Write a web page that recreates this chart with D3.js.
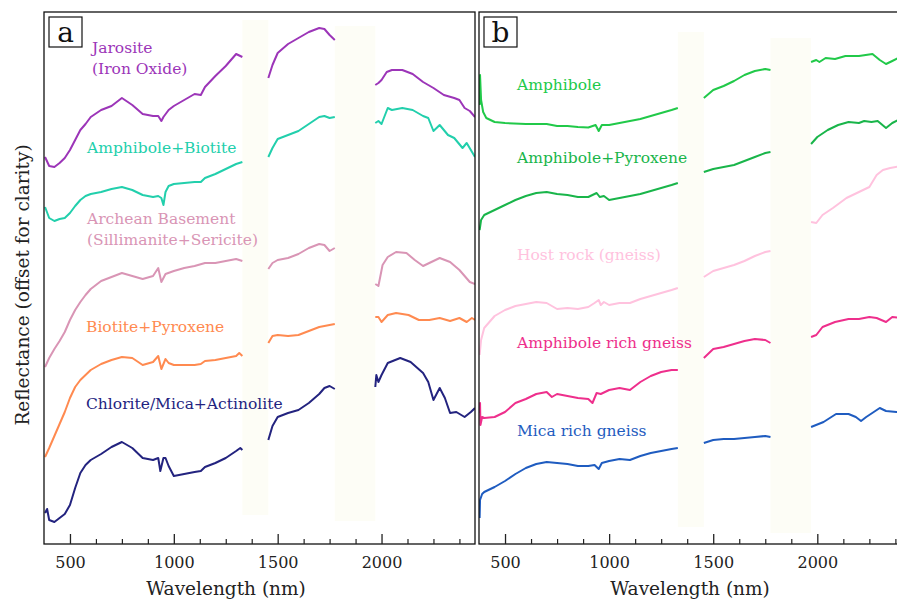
<!DOCTYPE html>
<html>
<head>
<meta charset="utf-8">
<script src="https://cdn.jsdelivr.net/npm/d3@7"></script>
<style>
  body { margin: 0; background: #fff; }
  text { font-family: "DejaVu Serif", serif; }
</style>
</head>
<body>
<div class="chart"></div>
<script>
// ---- data: [wavelength nm, offset reflectance] ----
const majorTicks = [500, 1000, 1500, 2000];
const minorTicks = [625, 750, 875, 1125, 1250, 1375, 1625, 1750, 1875, 2125, 2250, 2375];
const bands = [[1330, 1455], [1775, 1970]];

// panel a
const jarosite = [[380,38.7],[400,37.8],[425,37.7],[450,38.1],[475,38.6],[500,39.4],[525,40.4],[550,41.4],[575,42.0],[600,42.7],[650,43.4],[700,43.8],[750,44.6],[800,43.9],[850,43.0],[900,42.8],[925,42.8],[940,42.3],[950,42.7],[975,43.4],[1000,43.8],[1050,44.4],[1100,45.0],[1130,44.9],[1150,45.7],[1200,46.8],[1250,47.8],[1300,49.0],[1330,48.7],
  [1455,46.6],[1475,47.9],[1500,49.1],[1550,50.0],[1600,50.6],[1650,51.2],[1700,51.6],[1725,51.5],[1750,50.9],[1775,50.4],
  [1970,45.9],[1985,46.1],[2000,46.4],[2025,47.2],[2050,47.4],[2100,47.4],[2150,47.0],[2200,46.2],[2250,45.6],[2300,44.9],[2350,44.6],[2375,44.4],[2400,43.6],[2425,43.3],[2450,42.7]];
const amphBiotite = [[380,33.7],[400,32.6],[425,32.3],[450,32.5],[475,32.6],[500,33.1],[525,33.8],[550,34.4],[575,34.8],[600,35.0],[650,35.2],[700,35.5],[750,35.7],[800,35.4],[850,34.9],[900,34.7],[925,34.8],[940,34.6],[950,33.9],[960,35.2],[975,35.8],[1000,36.0],[1050,36.1],[1100,36.2],[1130,36.2],[1150,36.6],[1200,37.0],[1250,37.5],[1300,38.0],[1330,38.2],
  [1455,38.7],[1475,39.6],[1500,40.5],[1550,40.9],[1600,41.3],[1650,42.0],[1700,42.7],[1725,42.8],[1750,42.6],[1775,42.7],
  [1970,42.1],[1985,42.3],[2000,42.0],[2030,43.6],[2050,43.4],[2100,43.6],[2150,43.4],[2200,42.8],[2225,42.6],[2250,41.3],[2280,41.9],[2320,40.9],[2350,40.6],[2390,39.6],[2410,40.1],[2450,38.7]];
const archean = [[380,17.7],[400,18.6],[425,19.5],[450,20.3],[475,21.2],[500,22.4],[525,23.4],[550,24.2],[575,24.9],[600,25.5],[650,26.3],[700,26.7],[750,27.1],[800,26.8],[850,26.5],[900,26.8],[925,27.6],[940,26.2],[960,27.0],[1000,27.3],[1050,27.6],[1100,27.8],[1150,28.1],[1200,28.1],[1250,28.3],[1300,28.5],[1330,28.3],
  [1455,27.5],[1475,28.1],[1500,28.4],[1550,28.6],[1600,29.0],[1650,29.6],[1700,30.0],[1725,29.9],[1750,29.3],[1775,29.6],
  [1970,26.0],[1985,25.8],[2005,27.9],[2030,28.7],[2070,29.2],[2120,29.1],[2160,28.4],[2200,27.8],[2230,28.1],[2280,28.6],[2330,28.2],[2375,27.4],[2425,26.2],[2450,26.0]];
const biotitePyx = [[380,8.7],[400,9.6],[425,10.8],[450,12.0],[475,13.2],[500,14.6],[525,15.7],[550,16.4],[575,16.9],[600,17.4],[650,18.0],[700,18.4],[750,18.7],[800,18.6],[850,17.9],[900,18.2],[925,18.8],[940,17.5],[960,18.5],[975,18.1],[1000,17.9],[1050,17.9],[1100,17.9],[1130,18.0],[1150,18.3],[1200,18.4],[1250,18.6],[1300,18.8],[1315,19.1],[1330,18.8],
  [1455,20.1],[1475,20.8],[1500,20.9],[1550,20.8],[1600,20.9],[1650,21.3],[1700,21.7],[1750,21.9],[1775,22.0],
  [1970,22.7],[1985,22.7],[2000,22.2],[2030,22.9],[2070,23.1],[2130,22.9],[2180,22.4],[2230,22.4],[2280,22.6],[2330,22.3],[2375,22.6],[2410,22.2],[2435,22.6],[2450,22.4]];
const chlorite = [[380,3.1],[390,3.5],[400,2.4],[425,2.2],[450,2.6],[475,3.0],[500,3.9],[525,5.6],[550,7.1],[575,7.9],[600,8.4],[650,9.0],[700,9.7],[750,10.2],[800,9.6],[850,8.6],[900,8.4],[925,8.6],[935,7.3],[950,8.6],[960,8.6],[975,7.8],[1000,6.8],[1050,7.0],[1100,7.2],[1130,7.3],[1150,7.7],[1200,8.1],[1250,8.6],[1300,9.3],[1320,9.6],[1330,9.4],
  [1455,10.4],[1475,11.8],[1500,12.7],[1550,13.1],[1600,13.4],[1650,14.1],[1700,15.0],[1725,15.6],[1750,15.8],[1775,15.5],
  [1970,15.7],[1975,16.9],[1985,16.2],[2000,16.9],[2030,18.1],[2090,18.6],[2140,18.2],[2200,17.1],[2225,16.2],[2250,14.4],[2280,15.6],[2305,14.6],[2330,13.1],[2360,13.2],[2400,12.7],[2430,13.2],[2450,13.6]];

// panel b
const amphibole = [[378,43.9],[380,46.9],[385,44.4],[395,43.2],[410,42.6],[450,42.2],[500,42.1],[600,42.0],[700,42.0],[750,41.8],[800,41.8],[850,41.7],[900,41.65],[935,41.9],[950,41.3],[965,41.9],[1000,41.9],[1050,42.1],[1100,42.3],[1150,42.5],[1200,42.8],[1250,43.1],[1300,43.4],[1330,43.6],
  [1455,44.6],[1500,45.4],[1550,45.8],[1600,46.3],[1650,46.9],[1700,47.3],[1750,47.5],[1775,47.4],
  [1970,48.2],[1995,48.4],[2010,48.2],[2040,48.6],[2085,48.5],[2135,48.8],[2200,48.8],[2265,49.0],[2300,48.4],[2330,48.0],[2360,48.3],[2400,48.7],[2450,48.9]];
const amphPyx = [[378,31.4],[385,32.4],[400,32.9],[450,33.4],[500,33.9],[550,34.4],[600,34.8],[650,35.1],[700,35.2],[750,35.0],[800,34.9],[850,34.7],[900,34.7],[940,35.1],[955,34.7],[975,34.8],[1000,34.4],[1050,34.6],[1100,34.8],[1150,35.0],[1200,35.3],[1250,35.6],[1300,35.9],[1330,36.1],
  [1455,37.2],[1500,37.5],[1550,37.7],[1600,37.9],[1650,38.3],[1700,38.7],[1750,39.1],[1775,39.2],
  [1970,40.0],[2000,40.7],[2050,41.4],[2100,41.9],[2150,42.2],[2200,42.1],[2225,42.3],[2260,42.2],[2290,42.3],[2330,41.6],[2360,42.1],[2400,42.5],[2450,42.8]];
const hostRock = [[378,18.9],[385,20.4],[400,21.6],[450,22.8],[500,23.4],[550,23.8],[600,24.0],[650,24.2],[700,24.1],[750,23.5],[800,23.6],[850,23.5],[900,23.7],[930,24.1],[950,24.4],[960,23.9],[975,24.2],[1000,23.9],[1050,24.1],[1100,24.1],[1150,24.5],[1200,24.8],[1250,25.1],[1300,25.4],[1330,25.6],
  [1455,26.7],[1500,27.3],[1550,27.6],[1600,27.9],[1650,28.3],[1700,28.8],[1750,29.2],[1775,29.3],
  [1970,32.2],[1995,32.1],[2025,32.9],[2075,33.6],[2140,34.6],[2200,35.2],[2250,35.7],[2285,36.9],[2315,37.4],[2350,37.6],[2400,37.8],[2450,38.0]];
const amphGneiss = [[378,13.1],[380,14.1],[382,11.9],[390,12.7],[400,12.6],[450,12.7],[500,13.2],[550,14.1],[600,14.5],[650,15.0],[700,15.2],[725,14.7],[750,15.0],[800,14.8],[850,14.6],[900,14.5],[920,14.1],[940,15.1],[960,15.0],[1000,15.4],[1050,15.6],[1100,15.4],[1150,16.2],[1200,16.8],[1250,17.2],[1300,17.4],[1330,17.4],
  [1455,18.6],[1475,19.0],[1500,19.5],[1550,19.7],[1600,20.0],[1650,20.3],[1700,20.5],[1750,20.4],[1775,20.1],
  [1970,20.7],[1995,20.9],[2025,21.7],[2085,22.2],[2150,22.5],[2200,22.5],[2250,22.7],[2285,22.6],[2330,22.2],[2360,22.7],[2400,22.6],[2450,22.8]];
const micaGneiss = [[378,2.6],[380,4.4],[390,5.0],[400,5.2],[450,5.7],[500,6.3],[550,7.0],[600,7.6],[650,8.0],[700,8.2],[750,8.1],[800,8.0],[850,7.8],[900,7.8],[930,7.9],[950,7.5],[965,8.1],[1000,8.3],[1050,8.5],[1100,8.4],[1150,8.8],[1200,9.1],[1250,9.3],[1300,9.5],[1330,9.6],
  [1455,10.1],[1500,10.4],[1550,10.5],[1600,10.5],[1650,10.6],[1700,10.7],[1750,10.8],[1775,10.7],
  [1970,11.7],[2030,12.2],[2090,13.0],[2150,13.0],[2185,12.7],[2210,12.3],[2235,12.7],[2300,13.6],[2330,13.3],[2380,13.2],[2450,13.2]];

const seriesA = [
  {name: ["Jarosite", "(Iron Oxide)"], values: jarosite, color: "#9c35b8"},
  {name: ["Amphibole+Biotite"], values: amphBiotite, color: "#22cfac"},
  {name: ["Archean Basement", "(Sillimanite+Sericite)"], values: archean, color: "#d995b5"},
  {name: ["Biotite+Pyroxene"], values: biotitePyx, color: "#ff8a50"},
  {name: ["Chlorite/Mica+Actinolite"], values: chlorite, color: "#23237f"}
];
const seriesB = [
  {name: ["Amphibole"], values: amphibole, color: "#21c949"},
  {name: ["Amphibole+Pyroxene"], values: amphPyx, color: "#19b54a"},
  {name: ["Host rock (gneiss)"], values: hostRock, color: "#ffc2de"},
  {name: ["Amphibole rich gneiss"], values: amphGneiss, color: "#ee2f8c"},
  {name: ["Mica rich gneiss"], values: micaGneiss, color: "#1f5cc0"}
];

// label placement (left x, first baseline) per panel
const labelPosA = [[92, 53], [87, 153], [87, 224], [86, 332], [86, 409]];
const labelPosB = [[517, 90], [517, 163], [517, 260], [517, 348], [517, 436]];

const W = 897, H = 604;
const plotTop = 12, plotBottom = 544;

const svg = d3.select(".chart").append("svg")
  .attr("width", W).attr("height", H);

const y = d3.scaleLinear().domain([0, 53.2]).range([plotBottom, plotTop]);

function withBreaks(vals) {
  const out = [];
  vals.forEach((d, i) => {
    if (i > 0 && d[0] - vals[i - 1][0] > 100) out.push(null);
    out.push(d);
  });
  return out;
}

function drawPanel(id, x0, x1, series, labelPos, letter, titleX) {
  const x = d3.scaleLinear().domain([375, 2450]).range([x0, x1]);
  const g = svg.append("g");

  g.append("clipPath").attr("id", "clip" + id)
    .append("rect").attr("x", x0).attr("y", plotTop).attr("width", x1 - x0).attr("height", plotBottom - plotTop);

  // water absorption bands (very faint)
  g.selectAll(".band").data(bands).enter().append("rect")
    .attr("x", d => x(d[0])).attr("width", d => x(d[1]) - x(d[0]))
    .attr("y", (d, i) => y(52.4 - i * 0.6) + (id === "b" ? 12 : 0))
    .attr("height", 495)
    .attr("fill", "#fdfdf6");

  const line = d3.line()
    .defined(d => d !== null)
    .x(d => x(d[0])).y(d => y(d[1]));

  g.append("g").attr("clip-path", `url(#clip${id})`)
    .selectAll("path").data(series).enter().append("path")
    .attr("d", d => line(withBreaks(d.values)))
    .attr("fill", "none")
    .attr("stroke", d => d.color)
    .attr("stroke-width", 2)
    .attr("stroke-linejoin", "round");

  // series labels
  series.forEach((s, i) => {
    const t = g.append("text")
      .attr("x", labelPos[i][0]).attr("y", labelPos[i][1])
      .attr("fill", s.color)
      .style("font-size", "15.5px");
    s.name.forEach((n, k) => {
      t.append("tspan").attr("x", labelPos[i][0]).attr("dy", k ? 21 : 0).text(n);
    });
  });

  // frame
  g.append("rect")
    .attr("x", x0).attr("y", plotTop).attr("width", x1 - x0).attr("height", plotBottom - plotTop)
    .attr("fill", "none").attr("stroke", "#111").attr("stroke-width", 1.3);

  // inward ticks
  const major = d3.axisBottom(x).tickValues(majorTicks).tickSize(-10)
    .tickPadding(13).tickSizeOuter(0).tickFormat(d3.format("d"));
  const ax = g.append("g").attr("transform", `translate(0,${plotBottom})`).call(major);
  ax.select(".domain").remove();
  ax.selectAll("line").attr("stroke", "#222").attr("stroke-width", 1.3);
  ax.selectAll("text").style("font-size", "16px").attr("fill", "#222")
    .style("font-family", "DejaVu Serif, serif");

  const minor = d3.axisBottom(x).tickValues(minorTicks).tickSize(-5).tickFormat("");
  const mx = g.append("g").attr("transform", `translate(0,${plotBottom})`).call(minor);
  mx.select(".domain").remove();
  mx.selectAll("line").attr("stroke", "#222").attr("stroke-width", 1.2);

  g.append("text")
    .attr("x", titleX).attr("y", 595)
    .attr("text-anchor", "middle")
    .style("font-size", "18.5px").attr("fill", "#222")
    .text("Wavelength (nm)");

  // panel letter
  g.append("rect").attr("x", x0 + 5).attr("y", 17).attr("width", 33).attr("height", 30)
    .attr("fill", "#fff").attr("stroke", "#111").attr("stroke-width", 1.2);
  g.append("text").attr("x", x0 + 21.5).attr("y", 42)
    .attr("text-anchor", "middle").style("font-size", "28px").attr("fill", "#111")
    .text(letter);
}

drawPanel("a", 44, 475, seriesA, labelPosA, "a", 226);
drawPanel("b", 479, 911, seriesB, labelPosB, "b", 690);

svg.append("text")
  .attr("transform", "translate(29,285) rotate(-90)")
  .attr("text-anchor", "middle")
  .style("font-size", "18.5px").attr("fill", "#222")
  .text("Reflectance (offset for clarity)");
</script>
</body>
</html>
